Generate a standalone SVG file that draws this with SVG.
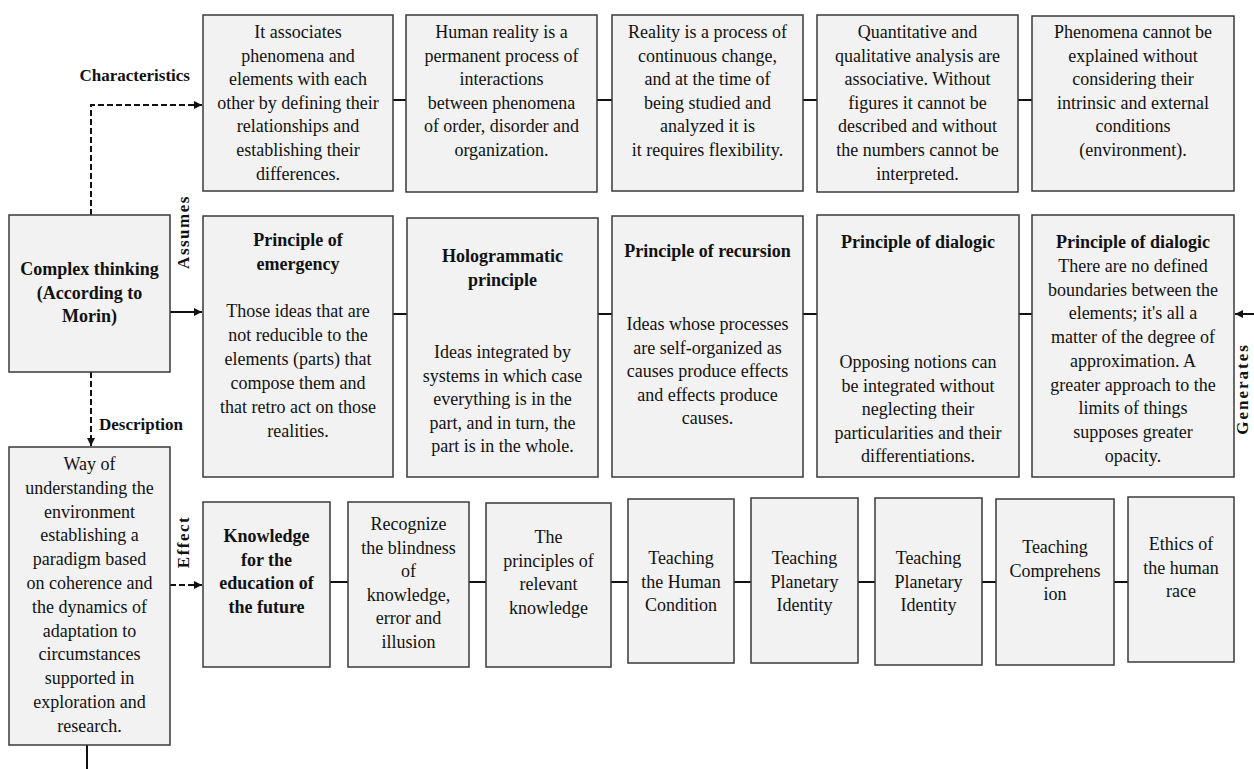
<svg xmlns="http://www.w3.org/2000/svg" width="1254" height="769" viewBox="0 0 1254 769">
<style>
.box{fill:#f2f2f2;stroke:#3a3a3a;stroke-width:1.5}
.t{font-family:"Liberation Serif","Times New Roman",serif;font-size:18px;fill:#111;text-anchor:middle}
.b{font-family:"Liberation Serif","Times New Roman",serif;font-size:18px;font-weight:bold;fill:#111;text-anchor:middle}
.lbl{font-family:"Liberation Serif","Times New Roman",serif;font-size:17px;font-weight:bold;fill:#111}
.ln{stroke:#111;stroke-width:2;fill:none}
.dash{stroke:#111;stroke-width:2;fill:none;stroke-dasharray:6 3}
</style>
<defs>
<marker id="ah" viewBox="0 0 10 10" refX="10" refY="5" markerWidth="4" markerHeight="4" orient="auto" markerUnits="strokeWidth">
<path d="M0,0 L10,5 L0,10 z" fill="#111"/>
</marker>
</defs>
<rect width="1254" height="769" fill="#fff"/>
<g id="connectors">
<path class="dash" d="M91,215 V105 H202" marker-end="url(#ah)"/>
<path class="ln" d="M170,312 H202" marker-end="url(#ah)"/>
<path class="dash" d="M91,372 V446" marker-end="url(#ah)"/>
<path class="dash" d="M170,585 H202" marker-end="url(#ah)"/>
<path class="ln" d="M1254,314 H1235" marker-end="url(#ah)"/>
<path class="ln" d="M87,745 V769"/>
<path class="ln" d="M393,100 H406 M597,100 H612 M803,100 H817 M1018,100 H1032"/>
<path class="ln" d="M393,314 H407 M598,314 H612 M803,314 H817 M1019,314 H1032"/>
<path class="ln" d="M330,582 H348 M469,582 H486 M611,582 H628 M734,582 H751 M858,582 H875 M982,582 H996 M1114,582 H1128"/>
<text class="lbl" x="190" y="81" text-anchor="end">Characteristics</text>
<text class="lbl" x="99" y="430">Description</text>
<text class="lbl" transform="translate(189,232) rotate(-90)" text-anchor="middle" letter-spacing="1.5">Assumes</text>
<text class="lbl" transform="translate(189,542) rotate(-90)" text-anchor="middle" letter-spacing="1.5">Effect</text>
<text class="lbl" transform="translate(1248,389) rotate(-90)" text-anchor="middle" letter-spacing="2">Generates</text>
</g>
<g id="n-char1"><rect class="box" x="203" y="15" width="190" height="176"/>
<text class="t" x="298" y="38">It associates</text><text class="t" x="298" y="61.6">phenomena and</text><text class="t" x="298" y="85.2">elements with each</text><text class="t" x="298" y="108.8">other by defining their</text><text class="t" x="298" y="132.4">relationships and</text><text class="t" x="298" y="156">establishing their</text><text class="t" x="298" y="179.6">differences.</text></g>
<g id="n-char2"><rect class="box" x="406" y="15" width="191" height="177"/>
<text class="t" x="501.5" y="38">Human reality is a</text><text class="t" x="501.5" y="61.6">permanent process of</text><text class="t" x="501.5" y="85.2">interactions</text><text class="t" x="501.5" y="108.8">between phenomena</text><text class="t" x="501.5" y="132.4">of order, disorder and</text><text class="t" x="501.5" y="156">organization.</text></g>
<g id="n-char3"><rect class="box" x="612" y="15" width="191" height="176"/>
<text class="t" x="707.5" y="38">Reality is a process of</text><text class="t" x="707.5" y="61.6">continuous change,</text><text class="t" x="707.5" y="85.2">and at the time of</text><text class="t" x="707.5" y="108.8">being studied and</text><text class="t" x="707.5" y="132.4">analyzed it is</text><text class="t" x="707.5" y="156">it requires flexibility.</text></g>
<g id="n-char4"><rect class="box" x="817" y="15" width="201" height="177"/>
<text class="t" x="917.5" y="38">Quantitative and</text><text class="t" x="917.5" y="61.6">qualitative analysis are</text><text class="t" x="917.5" y="85.2">associative. Without</text><text class="t" x="917.5" y="108.8">figures it cannot be</text><text class="t" x="917.5" y="132.4">described and without</text><text class="t" x="917.5" y="156">the numbers cannot be</text><text class="t" x="917.5" y="179.6">interpreted.</text></g>
<g id="n-char5"><rect class="box" x="1032" y="16" width="202" height="175"/>
<text class="t" x="1133" y="38">Phenomena cannot be</text><text class="t" x="1133" y="61.6">explained without</text><text class="t" x="1133" y="85.2">considering their</text><text class="t" x="1133" y="108.8">intrinsic and external</text><text class="t" x="1133" y="132.4">conditions</text><text class="t" x="1133" y="156">(environment).</text></g>
<g id="n-complex"><rect class="box" x="9" y="215" width="161" height="157"/>
<text class="b" x="89.5" y="275">Complex thinking</text><text class="b" x="89.5" y="298.5">(According to</text><text class="b" x="89.5" y="322">Morin)</text></g>
<g id="n-emergency"><rect class="box" x="203" y="216" width="190" height="261"/>
<text class="b" x="298" y="246">Principle of</text><text class="b" x="298" y="269.5">emergency</text>
<text class="t" x="298" y="317">Those ideas that are</text><text class="t" x="298" y="341">not reducible to the</text><text class="t" x="298" y="365">elements (parts) that</text><text class="t" x="298" y="389">compose them and</text><text class="t" x="298" y="413">that retro act on those</text><text class="t" x="298" y="437">realities.</text></g>
<g id="n-holo"><rect class="box" x="407" y="218" width="191" height="259"/>
<text class="b" x="502.5" y="262">Hologrammatic</text><text class="b" x="502.5" y="285.5">principle</text>
<text class="t" x="502.5" y="358">Ideas integrated by</text><text class="t" x="502.5" y="381.5">systems in which case</text><text class="t" x="502.5" y="405">everything is in the</text><text class="t" x="502.5" y="428.5">part, and in turn, the</text><text class="t" x="502.5" y="452">part is in the whole.</text></g>
<g id="n-recursion"><rect class="box" x="612" y="216" width="191" height="261"/>
<text class="b" x="707.5" y="257">Principle of recursion</text>
<text class="t" x="707.5" y="330">Ideas whose processes</text><text class="t" x="707.5" y="353.5">are self-organized as</text><text class="t" x="707.5" y="377">causes produce effects</text><text class="t" x="707.5" y="400.5">and effects produce</text><text class="t" x="707.5" y="424">causes.</text></g>
<g id="n-dialogic1"><rect class="box" x="817" y="215" width="202" height="262"/>
<text class="b" x="918" y="248">Principle of dialogic</text>
<text class="t" x="918" y="368">Opposing notions can</text><text class="t" x="918" y="391.5">be integrated without</text><text class="t" x="918" y="415">neglecting their</text><text class="t" x="918" y="438.5">particularities and their</text><text class="t" x="918" y="462">differentiations.</text></g>
<g id="n-dialogic2"><rect class="box" x="1032" y="215" width="202" height="262"/>
<text class="b" x="1133" y="248">Principle of dialogic</text>
<text class="t" x="1133" y="272">There are no defined</text><text class="t" x="1133" y="295.7">boundaries between the</text><text class="t" x="1133" y="319.4">elements; it's all a</text><text class="t" x="1133" y="343.1">matter of the degree of</text><text class="t" x="1133" y="366.8">approximation. A</text><text class="t" x="1133" y="390.5">greater approach to the</text><text class="t" x="1133" y="414.2">limits of things</text><text class="t" x="1133" y="437.9">supposes greater</text><text class="t" x="1133" y="461.6">opacity.</text></g>
<g id="n-way"><rect class="box" x="9" y="447" width="161" height="298"/>
<text class="t" x="89.5" y="470">Way of</text><text class="t" x="89.5" y="493.8">understanding the</text><text class="t" x="89.5" y="517.6">environment</text><text class="t" x="89.5" y="541.4">establishing a</text><text class="t" x="89.5" y="565.2">paradigm based</text><text class="t" x="89.5" y="589">on coherence and</text><text class="t" x="89.5" y="612.8">the dynamics of</text><text class="t" x="89.5" y="636.6">adaptation to</text><text class="t" x="89.5" y="660.4">circumstances</text><text class="t" x="89.5" y="684.2">supported in</text><text class="t" x="89.5" y="708">exploration and</text><text class="t" x="89.5" y="731.8">research.</text></g>
<g id="n-knowledge"><rect class="box" x="203" y="502" width="127" height="165"/>
<text class="b" x="266.5" y="542">Knowledge</text><text class="b" x="266.5" y="565.5">for the</text><text class="b" x="266.5" y="589">education of</text><text class="b" x="266.5" y="612.5">the future</text></g>
<g id="n-recognize"><rect class="box" x="348" y="502" width="121" height="165"/>
<text class="t" x="408.5" y="530">Recognize</text><text class="t" x="408.5" y="553.5">the blindness</text><text class="t" x="408.5" y="577">of</text><text class="t" x="408.5" y="600.5">knowledge,</text><text class="t" x="408.5" y="624">error and</text><text class="t" x="408.5" y="647.5">illusion</text></g>
<g id="n-principles"><rect class="box" x="486" y="503" width="125" height="164"/>
<text class="t" x="548.5" y="543">The</text><text class="t" x="548.5" y="566.5">principles of</text><text class="t" x="548.5" y="590">relevant</text><text class="t" x="548.5" y="613.5">knowledge</text></g>
<g id="n-human"><rect class="box" x="628" y="499" width="106" height="164"/>
<text class="t" x="681" y="564">Teaching</text><text class="t" x="681" y="587.5">the Human</text><text class="t" x="681" y="611">Condition</text></g>
<g id="n-planetary1"><rect class="box" x="751" y="498" width="107" height="165"/>
<text class="t" x="804.5" y="564">Teaching</text><text class="t" x="804.5" y="587.5">Planetary</text><text class="t" x="804.5" y="611">Identity</text></g>
<g id="n-planetary2"><rect class="box" x="875" y="498" width="107" height="167"/>
<text class="t" x="928.5" y="564">Teaching</text><text class="t" x="928.5" y="587.5">Planetary</text><text class="t" x="928.5" y="611">Identity</text></g>
<g id="n-comprehension"><rect class="box" x="996" y="499" width="118" height="166"/>
<text class="t" x="1055" y="553">Teaching</text><text class="t" x="1055" y="576.5">Comprehens</text><text class="t" x="1055" y="600">ion</text></g>
<g id="n-ethics"><rect class="box" x="1128" y="497" width="106" height="165"/>
<text class="t" x="1181" y="550">Ethics of</text><text class="t" x="1181" y="573.5">the human</text><text class="t" x="1181" y="597">race</text></g>
</svg>
